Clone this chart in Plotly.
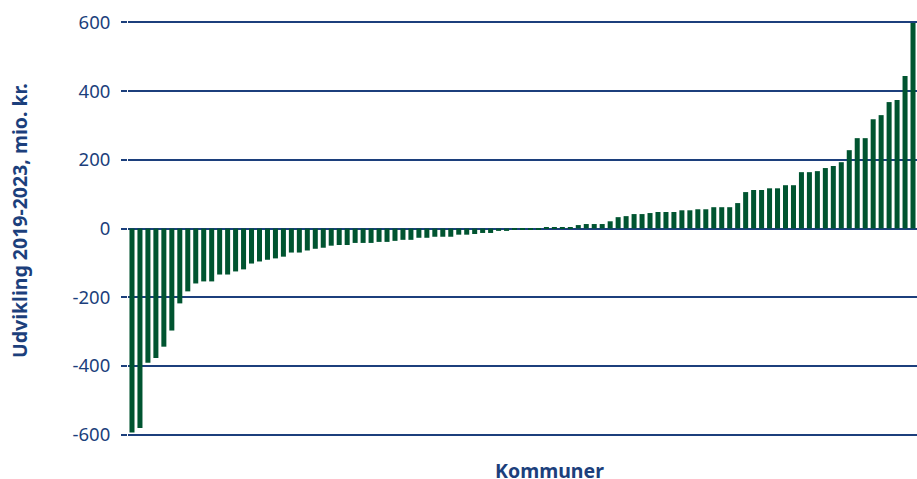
import plotly.graph_objects as go

values = [
    -594, -581, -391, -377, -344, -297, -218, -183, -160, -154,
    -154, -134, -134, -125, -119, -102, -96, -91, -87, -82,
    -70, -70, -64, -59, -56, -50, -48, -48, -42, -42,
    -42, -39, -39, -36, -33, -33, -27, -27, -24, -24,
    -24, -18, -18, -16, -13, -13, -7, -7, -4, -4,
    -4, -3, 4, 4, 4, 4, 10, 13, 13, 13,
    21, 33, 36, 42, 42, 45, 48, 48, 48, 53,
    53, 56, 56, 62, 62, 62, 74, 106, 112, 112,
    117, 117, 126, 126, 164, 164, 167, 176, 182, 193,
    228, 263, 263, 318, 330, 368, 374, 444, 598,
]
kommuner = [f"K{i+1}" for i in range(len(values))]
y_ticks = [-600, -400, -200, 0, 200, 400, 600]
y_tick_labels = ["-600", "-400", "-200", "0", "200", "400", "600"]
y_title = "Udvikling 2019-2023, mio. kr."
x_title = "Kommuner"

navy = "#1c3f7c"
green = "#005430"
font = "Noto Sans"

W, H = 917, 479
L, R, T, B = 128, 0, 21, 43
pw, ph = W - L - R, H - T - B

fig = go.Figure(go.Bar(x=kommuner, y=values, marker_color=green,
                       marker_line_width=0))
fig.update_layout(
    width=W, height=H,
    margin=dict(l=L, r=R, t=T, b=B, pad=0, autoexpand=False),
    paper_bgcolor="white", plot_bgcolor="white",
    bargap=0.37, showlegend=False,
    font=dict(family=font, color=navy, size=18),
)
fig.update_xaxes(showticklabels=False, showgrid=False, zeroline=False,
                 showline=False, ticks="", automargin=False)
fig.update_yaxes(range=[-604, 604], tickvals=y_ticks, ticktext=y_tick_labels,
                 showgrid=True, gridcolor=navy, gridwidth=1.5, zeroline=False,
                 ticks="outside", ticklen=6, tickcolor=navy, tickwidth=1.5,
                 ticklabelstandoff=7, automargin=False,
                 tickfont=dict(family=font, size=18.5, color=navy))
fig.add_annotation(text=f"<b>{y_title}</b>", xref="paper", yref="paper",
                   x=(19 - L) / pw, y=(H - B - 221) / ph, textangle=-90,
                   showarrow=False, xanchor="center", yanchor="middle",
                   font=dict(family=font, size=19.5, color=navy))
fig.add_annotation(text=f"<b>{x_title}</b>", xref="paper", yref="paper",
                   x=(549 - L) / pw, y=(H - B - 470) / ph, showarrow=False,
                   xanchor="center", yanchor="middle",
                   font=dict(family=font, size=19.5, color=navy))
fig.write_html(
    "out.html",
    config={"displayModeBar": False},
    post_script="document.documentElement.style.overflow='hidden';"
                "document.body.style.margin='0';"
                "document.body.style.overflow='hidden';",
)
